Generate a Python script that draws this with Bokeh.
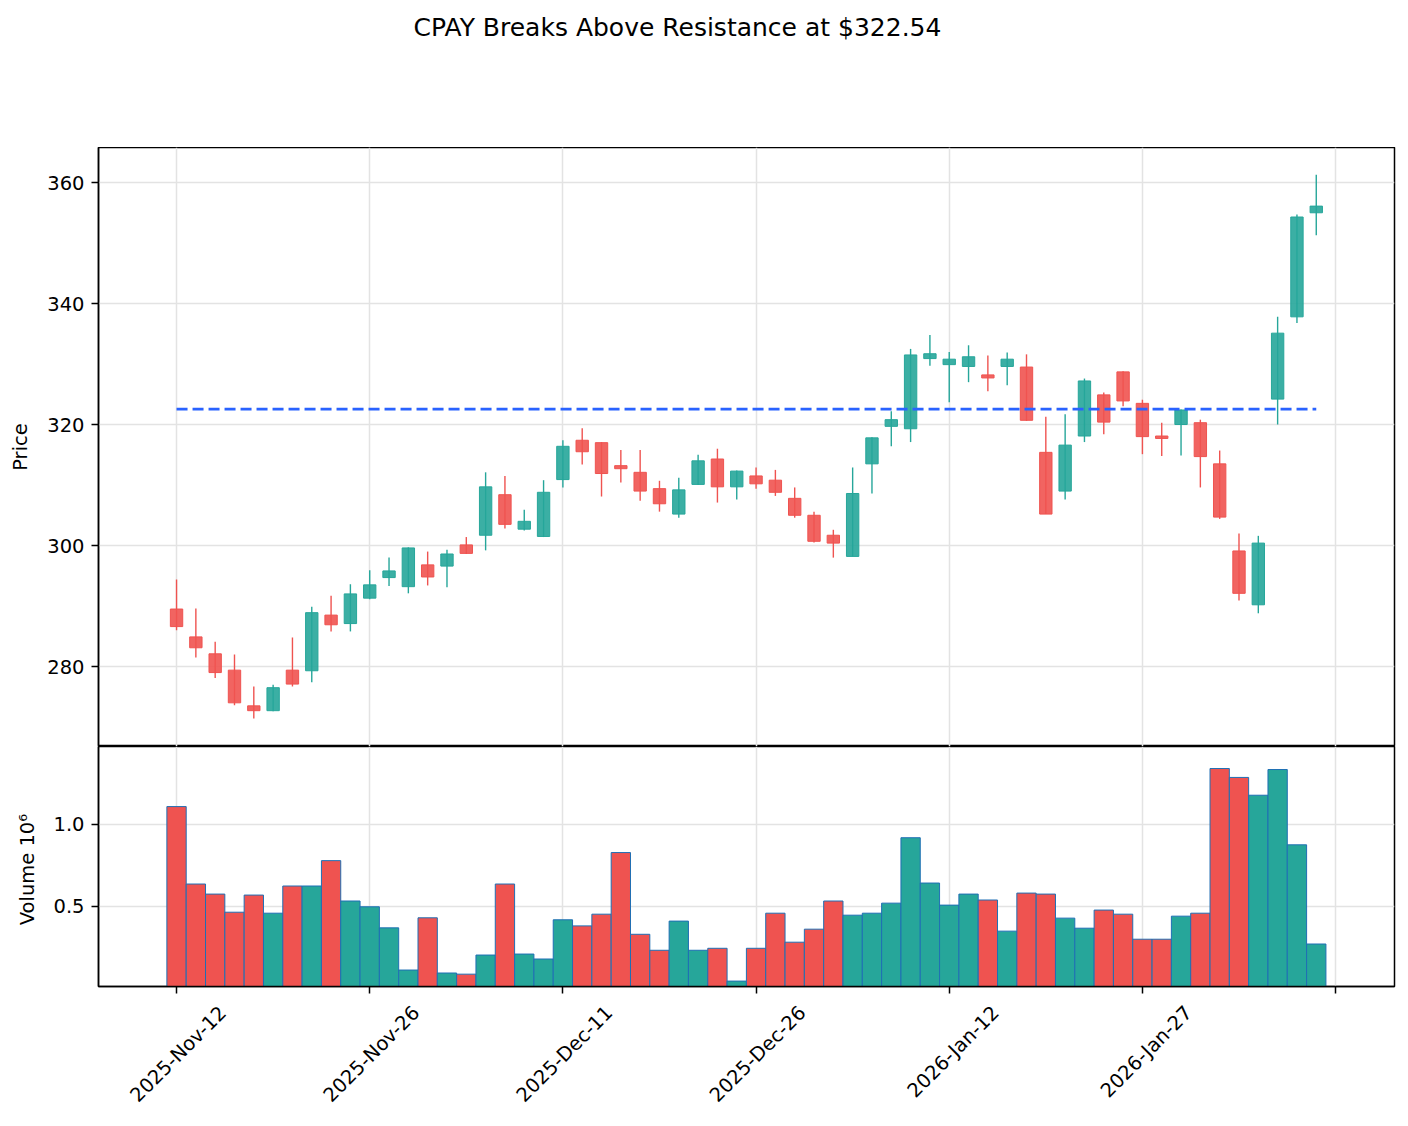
from math import pi
from datetime import date
from bokeh.plotting import figure
from bokeh.layouts import column
from bokeh.models import Range1d, FixedTicker, LinearAxis, PrintfTickFormatter
from bokeh.core.properties import value
from bokeh.embed import file_html
from bokeh.resources import INLINE

TITLE = "CPAY Breaks Above Resistance at $322.54"
RESISTANCE = 322.54

dates = (
    [date(2025, 11, d) for d in [12, 13, 14, 17, 18, 19, 20, 21, 24, 25, 26, 28]]
    + [date(2025, 12, d) for d in [1, 2, 3, 4, 5, 8, 9, 10, 11, 12, 15, 16, 17, 18, 19, 22, 23, 24, 26, 29, 30, 31]]
    + [date(2026, 1, d) for d in [2, 5, 6, 7, 8, 9, 12, 13, 14, 15, 16, 20, 21, 22, 23, 26, 27, 28, 29, 30]]
    + [date(2026, 2, d) for d in [2, 3, 4, 5, 6, 9]]
)

opens = [289.5, 284.9, 282.1, 279.4, 273.5, 272.7, 279.4, 279.3, 288.5, 287.1,
         291.3, 294.7, 293.2, 296.8, 296.6, 300.1, 301.7, 308.4, 302.7, 301.5,
         310.9, 317.4, 317.0, 313.2, 312.1, 309.4, 305.2, 310.1, 314.3, 309.7,
         311.5, 310.8, 307.8, 305.0, 301.7, 298.2, 313.5, 319.7, 319.3, 330.9,
         329.9, 329.6, 328.2, 329.6, 329.5, 315.4, 309.0, 318.1, 324.9, 328.7,
         323.5, 318.1, 320.0, 320.3, 313.5, 299.1, 290.2, 324.2, 337.8, 355.0]
highs = [294.4, 289.6, 284.1, 282.0, 276.7, 277.0, 284.8, 289.9, 291.7, 293.6,
         295.9, 298.0, 299.7, 299.0, 299.3, 301.4, 312.1, 311.5, 305.9, 310.8,
         317.4, 319.4, 317.1, 315.8, 315.8, 310.7, 311.2, 315.0, 316.0, 312.4,
         312.9, 312.5, 309.6, 305.6, 302.6, 312.9, 317.9, 322.2, 332.5, 334.8,
         332.0, 333.1, 331.4, 331.9, 331.6, 321.3, 321.7, 327.6, 325.3, 328.8,
         324.1, 320.3, 322.5, 320.8, 315.7, 302.0, 301.6, 337.8, 354.7, 361.3]
lows = [286.0, 281.5, 278.1, 273.6, 271.4, 272.6, 276.7, 277.4, 285.8, 285.8,
        291.1, 293.3, 292.1, 293.4, 293.1, 298.6, 299.2, 302.8, 302.5, 301.4,
        309.6, 313.4, 308.1, 310.4, 307.4, 305.6, 304.6, 310.0, 307.1, 307.6,
        309.4, 308.2, 304.6, 300.5, 298.0, 298.2, 308.6, 316.4, 317.1, 329.7,
        323.7, 327.0, 325.5, 326.5, 320.6, 305.2, 307.6, 317.1, 318.4, 323.0,
        315.1, 314.8, 314.9, 309.6, 304.4, 290.9, 288.8, 320.0, 336.8, 351.3]
closes = [286.6, 283.1, 279.0, 274.0, 272.7, 276.5, 277.1, 288.9, 286.9, 292.0,
          293.5, 295.8, 299.6, 294.8, 298.6, 298.7, 309.7, 303.5, 304.0, 308.8,
          316.4, 315.5, 311.9, 312.7, 309.0, 306.9, 309.2, 314.0, 309.7, 312.3,
          310.2, 308.8, 305.0, 300.7, 300.4, 308.6, 317.8, 320.8, 331.5, 331.7,
          330.8, 331.2, 327.7, 330.8, 320.7, 305.2, 316.6, 327.2, 320.4, 323.9,
          318.0, 317.7, 322.4, 314.7, 304.7, 292.1, 300.4, 335.1, 354.3, 356.1]
volumes = [1106000, 636000, 575000, 465000, 569000, 459000, 624000, 624000, 778000, 533000,
           498000, 370000, 114000, 431000, 96000, 89000, 205000, 636000, 211000, 181000,
           419000, 382000, 453000, 827000, 331000, 234000, 411000, 234000, 246000, 47000,
           246000, 459000, 283000, 362000, 533000, 447000, 459000, 520000, 917000, 642000,
           508000, 575000, 539000, 350000, 581000, 575000, 429000, 368000, 478000, 453000,
           301000, 301000, 441000, 459000, 1337000, 1283000, 1175000, 1331000, 874000, 272000]

tick_idx = [0, 10, 20, 30, 40, 50, 60]
label_idx = [0, 10, 20, 30, 40, 50]

UP = "#26a69a"
DOWN = "#ef5350"
FONT = "DejaVu Sans"
TICK_FS = "19.5px"

n = len(closes)
xs = list(range(n))
is_up = [c >= o for o, c in zip(opens, closes)]
colors = [UP if u else DOWN for u in is_up]
body_top = [max(o, c) for o, c in zip(opens, closes)]
body_bot = [min(o, c) for o, c in zip(opens, closes)]
vol_m = [v / 1e6 for v in volumes]

X0, X1 = -4.04, 63.05
xr = Range1d(X0, X1)


def style_y(ax):
    ax.axis_line_color = "black"
    ax.axis_line_width = 1.5
    ax.major_tick_line_color = "black"
    ax.major_tick_line_width = 1.5
    ax.major_tick_out = 7
    ax.major_tick_in = 0
    ax.minor_tick_line_color = None
    ax.major_label_text_font = FONT
    ax.major_label_text_font_size = TICK_FS
    ax.major_label_text_color = "black"
    ax.major_label_standoff = 7
    ax.axis_label_text_font = FONT
    ax.axis_label_text_font_size = TICK_FS
    ax.axis_label_text_font_style = "normal"
    ax.axis_label_text_color = "black"


# ---------------- title strip ----------------
p0 = figure(width=1408, height=147, x_range=Range1d(0, 1408), y_range=Range1d(147, 0),
            output_backend="svg", toolbar_location=None,
            x_axis_location=None, y_axis_location=None,
            min_border_left=0, min_border_right=0, min_border_top=0, min_border_bottom=0)
p0.grid.visible = False
p0.outline_line_color = None
p0.title.visible = False
p0.text(x=[629], y=[27], text=[TITLE], text_align="center", text_baseline="middle",
        text_font=value(FONT), text_font_size="25px", text_color="black")

# ---------------- price panel ----------------
p1 = figure(width=1408, height=599, x_range=xr, y_range=Range1d(266.78, 365.79),
            output_backend="svg", toolbar_location=None,
            min_border_left=98, min_border_right=14, min_border_top=0, min_border_bottom=0)
p1.outline_line_color = "black"
p1.outline_line_width = 1.5
p1.title.visible = False

p1.xaxis.visible = False
p1.xgrid.ticker = FixedTicker(ticks=tick_idx)
p1.yaxis.ticker = FixedTicker(ticks=[280, 300, 320, 340, 360])
p1.yaxis.axis_label = "Price"
p1.yaxis.axis_label_standoff = 12
style_y(p1.yaxis[0])
for g in (p1.xgrid[0], p1.ygrid[0]):
    g.grid_line_color = "#e3e3e3"
    g.grid_line_width = 1.5

p1.segment(x0=xs, y0=lows, x1=xs, y1=highs, line_color=colors, line_width=1.4)
p1.vbar(x=xs, width=0.64, top=body_top, bottom=body_bot,
        fill_color=colors, fill_alpha=0.9, line_color=colors, line_width=1)
p1.line(x=[xs[0], xs[-1]], y=[RESISTANCE, RESISTANCE], line_color="#2962ff",
        line_width=2.6, line_dash="11 5")

# ---------------- volume panel ----------------
p2 = figure(width=1408, height=380, x_range=xr,
            y_range=Range1d(0.3 * min(vol_m), 1.1 * max(vol_m)),
            output_backend="svg", toolbar_location=None,
            min_border_left=98, min_border_right=14, min_border_top=0, min_border_bottom=140)
p2.outline_line_color = "black"
p2.outline_line_width = 1.5
p2.title.visible = False

p2.yaxis.ticker = FixedTicker(ticks=[0.5, 1.0])
p2.yaxis.formatter = PrintfTickFormatter(format="%.1f")
p2.yaxis.axis_label = "Volume  10\u2076"
p2.yaxis.axis_label_standoff = 11
style_y(p2.yaxis[0])

xa = p2.xaxis[0]
xa.ticker = FixedTicker(ticks=tick_idx)
xa.major_label_overrides = {t: "" for t in tick_idx}
xa.major_label_text_font_size = "1px"
xa.major_label_standoff = 0
xa.axis_line_color = "black"
xa.axis_line_width = 1.5
xa.major_tick_line_color = "black"
xa.major_tick_line_width = 1.5
xa.major_tick_out = 7
xa.major_tick_in = 0
xa.minor_tick_line_color = None

SHIFT = 2.4
p2.extra_x_ranges = {"lbl": Range1d(X0 - SHIFT, X1 - SHIFT)}
lab_ax = LinearAxis(x_range_name="lbl", ticker=FixedTicker(ticks=label_idx),
                    major_label_overrides={i: dates[i].strftime("%Y-%b-%d") for i in label_idx},
                    major_label_orientation=pi / 4)
lab_ax.axis_line_color = None
lab_ax.major_tick_line_color = None
lab_ax.minor_tick_line_color = None
lab_ax.major_label_text_font = FONT
lab_ax.major_label_text_font_size = TICK_FS
lab_ax.major_label_text_color = "black"
lab_ax.major_label_standoff = 10
p2.add_layout(lab_ax, "below")

p2.xgrid.ticker = FixedTicker(ticks=tick_idx)
for g in (p2.xgrid[0], p2.ygrid[0]):
    g.grid_line_color = "#e3e3e3"
    g.grid_line_width = 1.5

p2.vbar(x=xs, width=1.0, top=vol_m, bottom=0, fill_color=colors,
        line_color="#1f6fb4", line_width=1)

layout = column(p0, p1, p2, spacing=0)
open("out.html", "w").write(file_html(layout, INLINE))
